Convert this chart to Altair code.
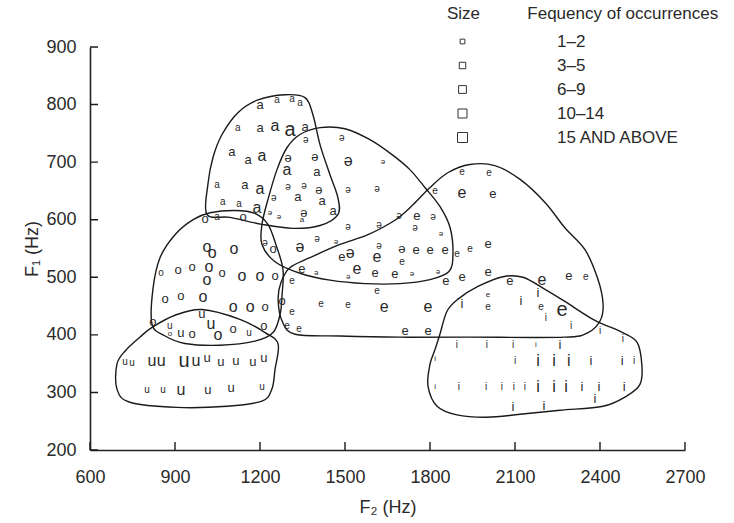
import altair as alt
import pandas as pd

FONT = "Liberation Sans, Arial, DejaVu Sans, sans-serif"
INK = "#2a2a2a"

# ---------- vowel tokens: F2 (Hz), F1 (Hz), frequency class (1..5) ----------
a_F2 = [1200, 1260, 1313, 1341, 1122, 1200, 1253, 1306, 1359, 1101, 1158, 1207, 1295, 1401,
        1048, 1147, 1200, 1334, 1419, 1069, 1126, 1189, 1348, 1458, 1048]
a_F1 = [800, 808, 810, 803, 760, 760, 763, 756, 761, 718, 704, 711, 687, 683,
        661, 661, 654, 640, 633, 630, 628, 621, 600, 616, 605]
a_cls = [3, 2, 2, 2, 2, 3, 4, 5, 3, 3, 3, 4, 4, 3, 2, 3, 4, 3, 3, 2, 2, 4, 1, 3, 2]

schwa_F2 = [1362, 1489, 1299, 1394, 1511, 1634, 1299, 1355, 1408, 1511, 1613, 1249, 1235, 1267,
            1355, 1691, 1811, 1511, 1620, 1747, 1839, 1218, 1341, 1401, 1468, 1620, 1518, 1701,
            1398, 1511, 1736, 1828]
schwa_F1 = [739, 742, 708, 709, 702, 701, 656, 659, 652, 652, 654, 637, 612, 605,
            612, 607, 605, 588, 590, 586, 576, 560, 553, 566, 562, 555, 543, 550,
            507, 500, 505, 510]
schwa_cls = [2, 2, 3, 3, 4, 1, 2, 2, 3, 2, 2, 2, 1, 1, 3, 2, 2, 2, 2, 2, 1, 2, 4, 2, 1, 2, 4, 3,
             1, 1, 1, 1]

e_F2 = [1913, 2008, 1818, 1913, 2022, 1754, 1751, 1800, 1853, 1895, 1941, 2005, 1701, 1489,
        1613, 1348, 1542, 1606, 1676, 1856, 1913, 2005, 2082, 2195, 2290, 2350, 1313, 1613,
        2005, 1415, 1511, 1638, 1793, 2005, 2192, 2266, 1313, 1295, 1338, 1712, 1793]
e_F1 = [683, 682, 650, 647, 645, 607, 548, 548, 548, 541, 550, 557, 527, 536,
        536, 515, 514, 507, 505, 493, 501, 510, 493, 496, 503, 500, 493, 477,
        470, 453, 451, 448, 449, 449, 449, 443, 439, 415, 411, 406, 406]
e_cls = [2, 2, 2, 4, 3, 3, 3, 3, 3, 2, 2, 3, 2, 3, 4, 3, 4, 3, 3, 3, 3, 3, 3, 4, 3, 2, 2, 2,
         1, 2, 2, 4, 4, 2, 2, 5, 2, 2, 2, 3, 3]

o_F2 = [1006, 1140, 1013, 1031, 1108, 1246, 851, 911, 960, 1020, 1013, 1066, 1136, 1200,
        1253, 865, 921, 999, 1105, 1165, 1218, 1278, 822, 882, 960, 1052, 1105, 1214]
o_F1 = [602, 605, 553, 543, 550, 550, 508, 512, 517, 517, 496, 508, 503, 503,
        503, 462, 467, 465, 449, 448, 449, 458, 422, 401, 401, 399, 410, 415]
o_cls = [3, 3, 4, 4, 4, 3, 2, 3, 3, 4, 4, 3, 4, 4, 3, 3, 3, 4, 4, 4, 3, 3, 3, 1, 3, 4, 3, 3]

u_F2 = [882, 995, 1027, 921, 1161, 724, 748, 819, 851, 932, 974, 1013, 1062, 1115, 1175, 1214,
        801, 858, 921, 1016, 1098, 1207]
u_F1 = [415, 436, 418, 403, 404, 352, 351, 354, 354, 354, 354, 359, 352, 354, 352, 359,
        304, 304, 304, 304, 307, 309]
u_cls = [2, 3, 4, 3, 2, 2, 2, 4, 4, 5, 4, 3, 3, 3, 3, 3, 2, 2, 4, 3, 3, 2]

i_F2 = [1913, 2121, 2181, 2209, 2298, 2400,
        1895, 2001, 2093, 2174, 2259, 1818, 2481,
        2100, 2181, 2238, 2290, 2368, 2478, 2520,
        1818, 1902, 1998, 2054, 2096, 2135, 2181, 2238, 2280, 2336, 2396, 2485,
        2093, 2202, 2382]
i_F1 = [453, 458, 472, 430, 415, 406,
        382, 382, 382, 382, 382, 358, 392,
        354, 354, 354, 354, 354, 354, 354,
        309, 309, 309, 309, 309, 309, 309, 309, 309, 309, 309, 309,
        274, 276, 288]
i_cls = [3, 3, 3, 2, 2, 2,
         2, 2, 2, 1, 3, 1, 2,
         2, 4, 4, 4, 3, 3, 2,
         1, 2, 2, 2, 2, 2, 4, 4, 4, 3, 3, 3,
         3, 3, 3]

# ---------- region contours (F2, F1) ----------
cont_a_F2 = [1013, 1016, 1034, 1066, 1122, 1193, 1288, 1359, 1387, 1412, 1447, 1475, 1475, 1412, 1316, 1207, 1094]
cont_a_F1 = [609, 661, 708, 748, 786, 808, 817, 812, 782, 730, 678, 638, 609, 590, 585, 592, 604]

cont_schwa_F2 = [1207, 1207, 1228, 1260, 1295, 1341, 1412, 1500, 1588, 1666, 1729, 1782, 1835, 1871,
                 1881, 1867, 1800, 1694, 1571, 1447, 1341, 1253]
cont_schwa_F1 = [557, 592, 635, 687, 725, 748, 760, 758, 739, 713, 687, 656, 623, 586,
                 540, 510, 496, 489, 489, 495, 507, 527]

cont_o_F2 = [819, 822, 847, 900, 964, 1024, 1112, 1182, 1228, 1256, 1281, 1278, 1271, 1246, 1182, 1059, 935, 865]
cont_o_F1 = [418, 479, 534, 574, 600, 612, 616, 611, 592, 557, 514, 470, 436, 404, 389, 382, 385, 398]

cont_u_F2 = [819, 900, 995, 1129, 1218, 1264, 1253, 1242, 1207, 1084, 907, 741, 695, 695, 724, 776]
cont_u_F1 = [413, 434, 444, 427, 404, 384, 340, 306, 285, 276, 274, 283, 306, 349, 372, 396]

cont_e_F2 = [1306, 1376, 1482, 1581, 1676, 1740, 1800, 1864, 1941, 2029, 2118, 2206, 2276, 2347,
             2393, 2411, 2400, 2358, 2276, 1941, 1694, 1482, 1324, 1278, 1264, 1274]
cont_e_F1 = [517, 534, 557, 574, 599, 626, 656, 682, 696, 694, 670, 630, 586, 548,
             496, 453, 424, 404, 396, 396, 396, 398, 401, 424, 462, 491]

cont_i_F2 = [1835, 1860, 1899, 1969, 2058, 2128, 2206, 2276, 2382, 2471, 2531, 2548, 2541, 2495,
             2411, 2259, 2118, 2001, 1895, 1825, 1793, 1800, 1818]
cont_i_F1 = [401, 441, 462, 484, 501, 500, 479, 458, 425, 406, 387, 346, 314, 294,
             276, 269, 262, 257, 261, 276, 311, 349, 375]

# ---------- axes / legend ----------
x_ticks = [600, 900, 1200, 1500, 1800, 2100, 2400, 2700]
y_ticks = [200, 300, 400, 500, 600, 700, 800, 900]
legend_classes = [1, 2, 3, 4, 5]
legend_labels = ["1\u20132", "3\u20135", "6\u20139", "10\u201314", "15 AND ABOVE"]

X0, X1, Y0, Y1 = 600, 2700, 200, 900
W, H = 595, 403
TICK_PX = 8
FONT_SIZES = {1: 8, 2: 10, 3: 13, 4: 16, 5: 20}

# ---------- tables ----------
rows = []
for sym, f2s, f1s, cls in [("a", a_F2, a_F1, a_cls), ("\u0259", schwa_F2, schwa_F1, schwa_cls),
                           ("e", e_F2, e_F1, e_cls), ("o", o_F2, o_F1, o_cls),
                           ("u", u_F2, u_F1, u_cls), ("i", i_F2, i_F1, i_cls)]:
    for f2, f1, c in zip(f2s, f1s, cls):
        rows.append({"sym": sym, "F2": f2, "F1": f1, "cls": c})
tokens = pd.DataFrame(rows)

# contour outlines plus the inward axis tick segments (2-point groups), drawn by one line mark
dy = (Y1 - Y0) * TICK_PX / H
dx = (X1 - X0) * TICK_PX / W
crows = []
for name, f2s, f1s in [("a", cont_a_F2, cont_a_F1), ("schwa", cont_schwa_F2, cont_schwa_F1),
                       ("o", cont_o_F2, cont_o_F1), ("u", cont_u_F2, cont_u_F1),
                       ("e", cont_e_F2, cont_e_F1), ("i", cont_i_F2, cont_i_F1)]:
    for k, (f2, f1) in enumerate(zip(f2s, f1s)):
        crows.append({"region": name, "idx": k, "F2": f2, "F1": f1})
for v in x_ticks:
    crows += [{"region": f"tx{v}", "idx": 0, "F2": v, "F1": Y0},
              {"region": f"tx{v}", "idx": 1, "F2": v, "F1": Y0 + dy}]
for v in y_ticks:
    crows += [{"region": f"ty{v}", "idx": 0, "F2": X0, "F1": v},
              {"region": f"ty{v}", "idx": 1, "F2": X0 + dx, "F1": v}]
contours = pd.DataFrame(crows)

leg = pd.DataFrame({"k": legend_classes})

xscale = alt.Scale(domain=[X0, X1], nice=False, zero=False)
yscale = alt.Scale(domain=[Y0, Y1], nice=False, zero=False)

xaxis = alt.Axis(values=x_ticks, title="F\u2082 (Hz)", ticks=False, grid=False, format="d",
                 labelFlush=False, labelPadding=18, titlePadding=12)
yaxis = alt.Axis(values=y_ticks, title="F\u2081 (Hz)", ticks=False, grid=False, format="d",
                 labelPadding=14, titlePadding=4)

contour_layer = alt.Chart(contours).mark_line(
    interpolate="cardinal-closed", color="#1a1a1a", strokeWidth=1.4
).encode(
    x=alt.X("F2:Q", scale=xscale, axis=xaxis),
    y=alt.Y("F1:Q", scale=yscale, axis=yaxis),
    detail="region:N",
    order="idx:Q",
)

text_layers = [
    alt.Chart(tokens).transform_filter(f"datum.cls == {c}").mark_text(
        font=FONT, color=INK, baseline="middle", fontSize=fs
    ).encode(
        x=alt.X("F2:Q", scale=xscale),
        y=alt.Y("F1:Q", scale=yscale),
        text="sym:N",
    )
    for c, fs in FONT_SIZES.items()
]

label_js = "[" + ",".join("'" + s + "'" for s in legend_labels) + "]"
legend_layer = alt.Chart(leg).transform_calculate(
    lx=str(X0), ly=str(Y0)
).mark_point(shape="square", filled=False, opacity=0, color="#333333").encode(
    x=alt.X("lx:Q", scale=xscale),
    y=alt.Y("ly:Q", scale=yscale),
    size=alt.Size("k:Q", scale=alt.Scale(domain=[1, 5], range=[22, 100]),
                  legend=alt.Legend(
                      values=legend_classes,
                      labelExpr=label_js + "[datum.value - 1]",
                      title="Size" + "\u00a0" * 10 + "Fequency of occurrences",
                      titleLimit=400, labelLimit=300,
                      orient="none", legendX=357, legendY=-41,
                      symbolType="square", symbolOpacity=1, symbolStrokeColor="#333333",
                      symbolFillColor="transparent", symbolStrokeWidth=1,
                      symbolOffset=7, labelOffset=86, rowPadding=6, titlePadding=10,
                      titleFontSize=17, labelFontSize=17, titleFont=FONT, labelFont=FONT,
                      titleFontWeight="normal", titleColor=INK, labelColor=INK,
                  )),
)

chart = alt.layer(legend_layer, contour_layer, *text_layers).properties(
    width=W, height=H,
    autosize=alt.AutoSizeParams(type="none"),
    padding={"left": 90, "top": 47, "right": 49, "bottom": 73},
).configure_view(stroke=None).configure_axis(
    domainColor="#222222", domainWidth=1.6, labelFont=FONT, titleFont=FONT,
    labelFontSize=18, titleFontSize=18, labelColor=INK, titleColor=INK,
    titleFontWeight="normal",
)

chart.save("out.html", embed_options={"renderer": "svg", "actions": False})
